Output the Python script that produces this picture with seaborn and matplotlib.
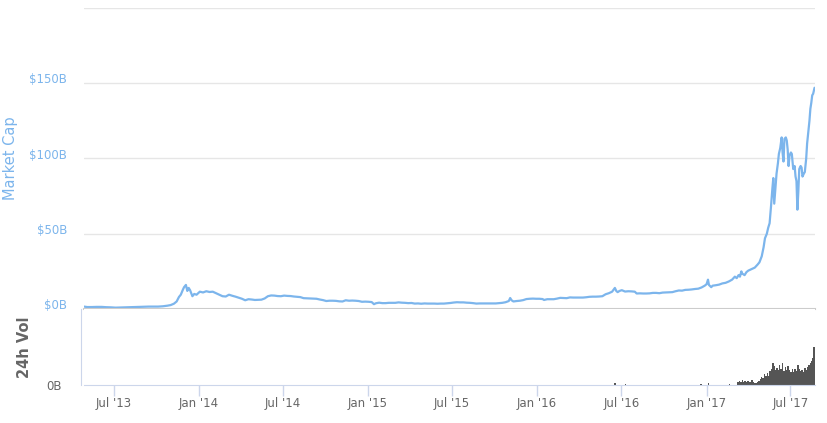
import matplotlib
matplotlib.use("Agg")
import matplotlib.pyplot as plt
import seaborn as sns
import pandas as pd

# ---- data (values in $B) ----
mcap_dates = [
    "2013-04-28","2013-05-05","2013-05-15","2013-05-25","2013-06-05","2013-06-15","2013-06-25",
    "2013-07-05","2013-07-15","2013-07-25","2013-08-05","2013-08-15","2013-08-25","2013-09-05",
    "2013-09-15","2013-09-25","2013-10-05","2013-10-15","2013-10-25","2013-11-01","2013-11-08",
    "2013-11-14","2013-11-19","2013-11-23","2013-11-27","2013-11-30","2013-12-04","2013-12-07",
    "2013-12-10","2013-12-13","2013-12-18","2013-12-22","2013-12-27","2014-01-03","2014-01-10",
    "2014-01-17","2014-01-24","2014-01-31","2014-02-07","2014-02-14","2014-02-21","2014-02-28",
    "2014-03-07","2014-03-14","2014-03-21","2014-03-28","2014-04-04","2014-04-11","2014-04-18",
    "2014-04-25","2014-05-02","2014-05-09","2014-05-16","2014-05-23","2014-05-30","2014-06-06",
    "2014-06-13","2014-06-20","2014-06-27","2014-07-04","2014-07-11","2014-07-18","2014-07-25",
    "2014-08-01","2014-08-08","2014-08-15","2014-08-22","2014-08-29","2014-09-05","2014-09-12",
    "2014-09-19","2014-09-26","2014-10-03","2014-10-10","2014-10-17","2014-10-24","2014-10-31",
    "2014-11-07","2014-11-14","2014-11-21","2014-11-28","2014-12-05","2014-12-12","2014-12-19",
    "2014-12-26","2015-01-02","2015-01-09","2015-01-14","2015-01-18","2015-01-25","2015-02-01",
    "2015-02-08","2015-02-15","2015-02-22","2015-03-01","2015-03-08","2015-03-15","2015-03-22",
    "2015-03-29","2015-04-05","2015-04-12","2015-04-19","2015-04-26","2015-05-03","2015-05-10",
    "2015-05-17","2015-05-24","2015-05-31","2015-06-07","2015-06-14","2015-06-21","2015-06-28",
    "2015-07-05","2015-07-12","2015-07-19","2015-07-26","2015-08-02","2015-08-09","2015-08-16",
    "2015-08-23","2015-08-30","2015-09-06","2015-09-13","2015-09-20","2015-09-27","2015-10-04",
    "2015-10-11","2015-10-18","2015-10-25","2015-11-01","2015-11-04","2015-11-07","2015-11-11",
    "2015-11-18","2015-11-25","2015-12-02","2015-12-09","2015-12-16","2015-12-23","2015-12-30",
    "2016-01-06","2016-01-13","2016-01-16","2016-01-23","2016-01-30","2016-02-06","2016-02-13",
    "2016-02-20","2016-02-27","2016-03-05","2016-03-12","2016-03-19","2016-03-26","2016-04-02",
    "2016-04-09","2016-04-16","2016-04-23","2016-04-30","2016-05-07","2016-05-14","2016-05-21",
    "2016-05-28","2016-06-04","2016-06-11","2016-06-17","2016-06-20","2016-06-23","2016-06-27",
    "2016-07-02","2016-07-09","2016-07-16","2016-07-23","2016-07-30","2016-08-03","2016-08-10",
    "2016-08-17","2016-08-24","2016-08-31","2016-09-07","2016-09-14","2016-09-21","2016-09-28",
    "2016-10-05","2016-10-12","2016-10-19","2016-10-26","2016-11-02","2016-11-09","2016-11-16",
    "2016-11-23","2016-11-30","2016-12-07","2016-12-14","2016-12-21","2016-12-28","2017-01-01",
    "2017-01-04","2017-01-06","2017-01-11","2017-01-14","2017-01-21","2017-01-28","2017-02-04",
    "2017-02-11","2017-02-18","2017-02-25","2017-03-03","2017-03-07","2017-03-11","2017-03-14",
    "2017-03-17","2017-03-19","2017-03-24","2017-03-28","2017-04-01","2017-04-08","2017-04-15",
    "2017-04-21","2017-04-25","2017-04-30","2017-05-04","2017-05-07","2017-05-11","2017-05-14",
    "2017-05-17","2017-05-20","2017-05-23","2017-05-25","2017-05-27","2017-05-29","2017-06-01",
    "2017-06-04","2017-06-06","2017-06-09","2017-06-12","2017-06-14","2017-06-16","2017-06-18",
    "2017-06-21","2017-06-23","2017-06-25","2017-06-27","2017-06-29","2017-07-02","2017-07-04",
    "2017-07-07","2017-07-10","2017-07-12","2017-07-14","2017-07-16","2017-07-18","2017-07-20",
    "2017-07-23","2017-07-25","2017-07-27","2017-07-30","2017-08-01","2017-08-04","2017-08-06",
    "2017-08-08","2017-08-11","2017-08-13","2017-08-15","2017-08-17","2017-08-19","2017-08-22",
]
mcap_values = [
    1.6,1.3,1.3,1.4,1.4,1.2,1.1,
    0.9,1.0,1.1,1.2,1.3,1.4,1.5,
    1.6,1.6,1.6,1.8,2.2,2.6,3.5,
    5.0,8.0,9.5,12.5,14.5,16.0,12.0,
    14.0,12.5,8.5,10.0,9.5,11.5,11.0,
    11.8,11.3,11.5,10.5,9.5,8.5,8.3,
    9.5,8.8,8.2,7.5,6.8,5.8,6.5,
    6.3,6.0,6.1,6.2,7.0,8.5,9.0,
    8.9,8.6,8.5,8.9,8.7,8.6,8.3,
    8.1,7.9,7.2,7.1,7.0,6.9,6.8,
    6.3,5.9,5.3,5.5,5.5,5.4,5.1,
    5.0,5.8,5.5,5.6,5.5,5.3,4.8,
    4.9,4.8,4.6,3.2,3.8,4.2,3.9,
    3.9,4.1,4.1,4.1,4.4,4.2,4.1,
    3.9,4.0,3.6,3.7,3.5,3.7,3.6,
    3.6,3.6,3.5,3.6,3.6,3.8,4.0,
    4.3,4.5,4.4,4.4,4.2,4.1,3.9,
    3.6,3.7,3.7,3.7,3.7,3.7,3.7,
    3.9,4.1,4.5,5.3,7.3,5.8,5.0,
    5.3,5.5,5.9,6.6,6.8,6.9,6.8,
    6.8,6.6,6.0,6.5,6.5,6.5,6.9,
    7.4,7.3,7.2,7.7,7.6,7.6,7.6,
    7.6,7.8,8.1,8.2,8.2,8.3,8.5,
    9.8,10.5,11.5,14.0,12.0,11.2,12.0,
    12.5,11.6,11.8,11.7,11.5,10.3,10.4,
    10.3,10.3,10.4,10.7,10.7,10.5,10.9,
    11.0,11.1,11.2,11.8,12.3,12.2,12.7,
    12.8,13.0,13.3,13.5,14.3,15.5,16.5,
    19.5,16.0,14.5,15.5,15.8,16.2,17.0,
    17.4,18.3,19.5,21.5,20.5,22.5,21.5,
    25.0,23.5,22.5,24.5,25.5,26.5,27.5,
    29.5,31.0,35.0,41.0,47.0,50.0,54.0,
    57.0,68.0,80.0,87.0,70.0,78.0,90.0,
    97.0,103.0,107.0,114.0,104.0,98.0,113.0,
    114.0,112.0,106.0,95.0,102.0,104.0,103.0,
    93.0,95.0,88.0,85.0,66.0,78.0,93.0,
    95.0,94.0,88.0,90.0,91.0,100.0,110.0,
    116.0,125.0,133.0,137.0,142.0,143.0,147.0,
]

vol_dates = [
    "2016-06-17","2016-07-10","2016-12-20","2017-01-05","2017-02-20",
    "2017-03-10","2017-03-13","2017-03-16","2017-03-19","2017-03-22","2017-03-25","2017-03-28",
    "2017-03-31","2017-04-03","2017-04-06","2017-04-09","2017-04-12","2017-04-15","2017-04-18",
    "2017-04-21","2017-04-24","2017-04-27","2017-04-30","2017-05-03","2017-05-06","2017-05-09",
    "2017-05-12","2017-05-15","2017-05-18","2017-05-21","2017-05-24","2017-05-27","2017-05-30",
    "2017-06-02","2017-06-05","2017-06-08","2017-06-11","2017-06-14","2017-06-17","2017-06-20",
    "2017-06-23","2017-06-26","2017-06-29","2017-07-02","2017-07-05","2017-07-08","2017-07-11",
    "2017-07-14","2017-07-17","2017-07-20","2017-07-23","2017-07-26","2017-07-29","2017-08-01",
    "2017-08-04","2017-08-07","2017-08-10","2017-08-13","2017-08-16","2017-08-19","2017-08-21",
]
vol_values = [
    0.4,0.3,0.2,0.5,0.3,
    0.6,0.9,0.7,1.1,0.7,0.8,0.6,
    0.9,0.7,0.6,1.1,0.6,0.5,0.5,
    0.6,0.8,1.2,1.6,1.5,2.4,1.8,
    2.6,2.0,3.0,3.4,4.6,4.0,3.2,
    3.6,3.2,4.2,3.4,4.6,3.0,3.7,
    3.1,4.1,3.1,2.7,3.3,2.8,3.3,
    2.9,4.3,3.4,2.9,3.1,2.7,3.5,
    3.2,3.8,4.2,4.6,5.0,5.6,7.9,
]

x_ticks = ["2013-07-01","2014-01-01","2014-07-01","2015-01-01","2015-07-01",
           "2016-01-01","2016-07-01","2017-01-01","2017-07-01"]
x_tick_labels = ["Jul '13","Jan '14","Jul '14","Jan '15","Jul '15",
                 "Jan '16","Jul '16","Jan '17","Jul '17"]
y_ticks = [0, 50, 100, 150, 200]
y_tick_labels = ["$0B", "$50B", "$100B", "$150B", ""]

# ---- styling ----
sns.set_style("white")
plt.rcParams["font.family"] = ["DejaVu Sans"]

BLUE = "#7cb5ec"
AXIS = "#ccd6eb"
GRID = "#e6e6e6"
TXT = "#666666"

mcap = pd.DataFrame({"date": pd.to_datetime(mcap_dates), "value": mcap_values})
vol = pd.DataFrame({"date": pd.to_datetime(vol_dates), "value": vol_values})

fig = plt.figure(figsize=(8.28, 4.23), dpi=100)
W, H = 828, 423
L, R = 84, 815
ax = fig.add_axes([L / W, 1 - 309 / H, (R - L) / W, (309 - 8) / H])
axv = fig.add_axes([L / W, 1 - 385 / H, (R - L) / W, (385 - 309) / H], sharex=ax)

xmin = pd.Timestamp("2013-04-28")
xmax = pd.Timestamp("2017-08-23")

# market cap line
sns.lineplot(data=mcap, x="date", y="value", ax=ax, color=BLUE, linewidth=1.6)
ax.set_ylim(0, 200)
ax.set_yticks(y_ticks)
ax.set_yticklabels(y_tick_labels)
ax.grid(axis="y", color=GRID, linewidth=1)
ax.set_axisbelow(True)
for s in ["top", "right", "left"]:
    ax.spines[s].set_visible(False)
ax.spines["bottom"].set_color("#cccccc")
ax.spines["bottom"].set_linewidth(1.5)
ax.tick_params(axis="y", length=0, pad=12, labelsize=8.5, labelcolor=BLUE)
for lab in ax.get_yticklabels():
    lab.set_va("baseline")
ax.tick_params(axis="x", bottom=False, labelbottom=False)
ax.set_xlabel("")
ax.set_ylabel("Market Cap", color=BLUE, fontsize=10.5)
ax.yaxis.set_label_coords((18 - L) / (R - L), 0.5)

# volume bars
axv.bar(vol["date"], vol["value"], width=3.0, color="#555555", linewidth=0, align="center")
axv.set_ylim(0, 16)
axv.set_yticks([0])
axv.set_yticklabels(["0B"])
for lab in axv.get_yticklabels():
    lab.set_va("baseline")
axv.tick_params(axis="y", length=0, pad=14, labelsize=8.5, labelcolor=TXT)
for s in ["top", "right"]:
    axv.spines[s].set_visible(False)
axv.spines["left"].set_color(AXIS)
axv.spines["bottom"].set_color(AXIS)
axv.spines["left"].set_position(("outward", 2))
axv.set_xlim(xmin, xmax)
axv.set_xticks(pd.to_datetime(x_ticks))
axv.set_xticklabels(x_tick_labels)
axv.tick_params(axis="x", direction="out", length=8, width=1, color=AXIS,
                labelsize=8.5, labelcolor=TXT, pad=0.5, bottom=True)
axv.set_xlabel("")
axv.set_ylabel("24h Vol", color=TXT, fontsize=10.5, fontweight="bold")
axv.yaxis.set_label_coords((32 - L) / (R - L), 0.5)

fig.savefig("out.png", dpi=100)
